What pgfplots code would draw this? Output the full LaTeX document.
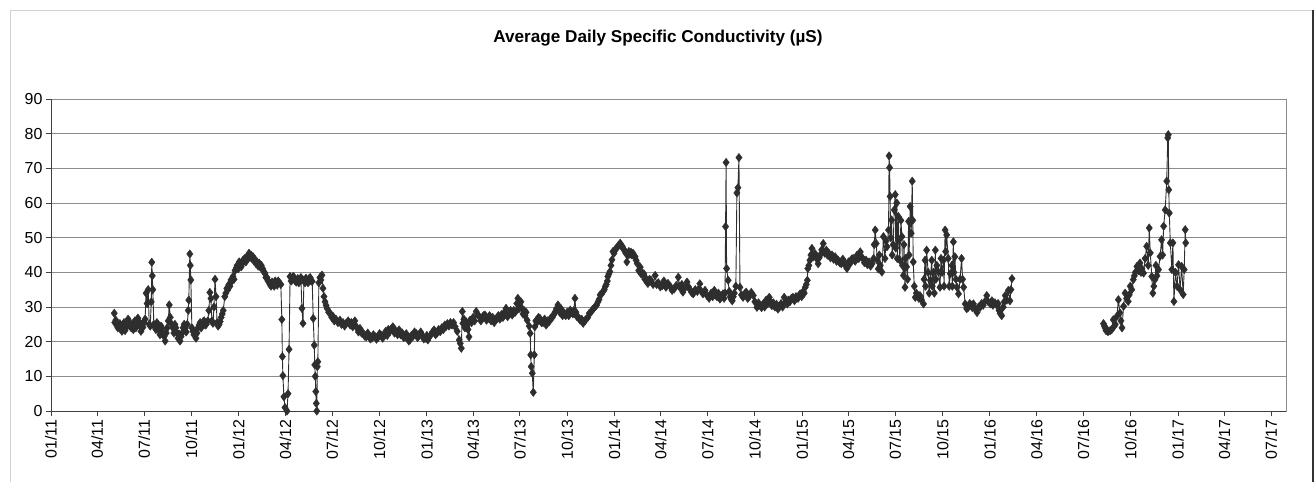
\documentclass[border=0pt]{standalone}
\usepackage{pgfplots}
\pgfplotsset{compat=1.18}
\usepackage{fontspec}
\setmainfont{Liberation Sans}
\definecolor{dat}{HTML}{2E2E2E}
\definecolor{gridc}{HTML}{8C8C8C}
\definecolor{axc}{HTML}{404040}
\begin{document}
\begin{tikzpicture}
\useasboundingbox (0bp,0bp) rectangle (1316bp,-482bp);
\draw[color=black!18, line width=1bp] (10bp,-482bp) -- (10bp,-10bp) -- (1313bp,-10bp);
\draw[color=black!80, line width=1.5bp] (1313bp,-10bp) -- (1313bp,-482bp);
\node[font=\bfseries\fontsize{17.2}{20}\selectfont] at (658bp,-38bp) {Average Daily Specific Conductivity (µS)};
\begin{axis}[
  at={(51bp,-411bp)}, anchor=south west,
  scale only axis, width=1235bp, height=312bp,
  xmin=0, xmax=2402, ymin=0, ymax=90,
  ytick={0,10,...,90},
  xtick={0,90,181,273,365,456,547,639,731,821,912,1004,1096,1186,1277,1369,1461,1551,1642,1734,1826,1917,2008,2100,2192,2282,2373},
  xticklabels={01/11,04/11,07/11,10/11,01/12,04/12,07/12,10/12,01/13,04/13,07/13,10/13,01/14,04/14,07/14,10/14,01/15,04/15,07/15,10/15,01/16,04/16,07/16,10/16,01/17,04/17,07/17},
  ymajorgrids,
  major grid style={gridc, line width=0.9bp},
  axis line style={gridc, line width=0.9bp},
  tick align=outside, major tick length=5bp,
  tick style={axc, line width=0.9bp},
  xtick pos=left, ytick pos=left,
  ticklabel style={font=\fontsize{16}{19}\selectfont},
  xticklabel style={rotate=90, anchor=east},
  /pgf/number format/assume math mode=true,
  clip=false,
]
\addplot[color=dat, line width=0.9bp, mark=diamond*, mark size=4.2bp, mark options={solid, fill=dat, draw=dat, line width=0.4bp}] coordinates {
(123,28.2)(124,25.5)(126,26.2)(128,25)(130,24)(132,24.3)(134,25.2)(136,23.8)(138,23)(140,24.5)(142,25.5)(144,23.2)(146,24)(148,24.8)(150,26.5)(152,25.6)(154,24.6)(156,24)(158,25)(160,23.5)(162,25)(163,26)(165,24)(167,24.5)(169,26.8)(171,25.8)(173,24.5)(175,23)(177,25)(179,24.2)(181,25.5)(183,26.5)(185,34)(187,31)(189,35)(191,25)(193,24.5)(195,31.5)(196,42.9)(197,39)(198,35)(200,25)(202,24.2)(204,23.5)(206,25.5)(208,24.5)(210,23.2)(212,22)(214,24.5)(216,23.8)(218,22.5)(220,21.5)(222,20.2)(224,22.5)(226,24)(228,26)(230,30.6)(232,27)(235,25)(237,24)(239,22.5)(241,25)(243,24)(245,22.5)(247,21)(249,22.2)(251,20.2)(253,21.5)(255,22.5)(257,24)(259,25)(261,23.8)(263,22.8)(265,25)(267,29)(268,32)(270,45.3)(271,42)(272,37.8)(274,24)(276,23)(278,22)(280,22.8)(282,21)(284,22.5)(286,24)(288,24.8)(290,25.5)(292,24)(294,24.5)(296,25.8)(298,26)(300,24.8)(302,25)(305,26)(307,29)(309,34.2)(311,32.5)(313,26)(315,25.3)(317,30)(319,38)(321,33)(323,25.5)(325,24.5)(327,25)(329,25.8)(331,27)(333,28)(335,29)(338,33)(340,34)(342,35.4)(344,35)(346,36.5)(348,36)(350,37.8)(352,37.5)(354,38.8)(356,38)(358,40.5)(360,41.2)(362,42)(364,41)(366,43)(368,42.5)(370,41.6)(372,42.5)(374,43.6)(377,44)(379,43)(381,44.5)(383,44)(385,45.5)(387,44.3)(389,45)(391,44)(393,44.5)(395,43.2)(397,43.6)(399,42.5)(401,43)(403,41.8)(405,42.6)(407,41.5)(409,42)(412,41)(414,40.2)(416,39.7)(418,38.5)(420,38.5)(422,37.5)(424,37.3)(426,36.5)(428,36)(430,37.2)(432,36.8)(434,36)(436,37.5)(438,36.8)(440,36.3)(442,37.5)(444,37)(447,36.5)(449,26.4)(450,15.7)(451,10.2)(453,4.1)(455,1)(459,0)(461,5)(463,17.8)(465,38.8)(467,37.5)(469,37.8)(471,38.8)(473,38.5)(475,37.5)(477,37.2)(480,38.2)(482,37)(484,37.5)(486,38.5)(488,29.6)(490,25.3)(492,37.8)(494,37)(496,38.3)(498,37.5)(500,37)(502,38.2)(504,38.5)(506,37.5)(508,37.4)(510,26.7)(512,19)(513,13.3)(514,10)(515,5.6)(516,2.2)(517,0)(518,12.8)(519,14.2)(521,37)(523,38.5)(525,37.8)(527,39.2)(529,35.4)(531,33)(533,31.5)(535,30.5)(537,29.6)(540,28.5)(543,28.2)(546,27)(549,27.2)(551,26)(554,26.5)(558,25.5)(562,26.2)(565,25)(568,25.5)(571,24.5)(574,25.3)(578,26)(582,24.8)(584,25.5)(587,24.3)(591,26)(593,24.5)(595,24)(598,22.8)(601,23.8)(604,22.5)(607,22.5)(610,21.6)(613,21.4)(616,22.5)(619,21.8)(621,20.8)(624,21)(627,22)(630,21.5)(633,20.7)(636,21.2)(639,22.3)(642,21.9)(645,21)(648,22)(651,23)(654,21.8)(656,23.5)(659,22.9)(662,23.8)(665,24.3)(668,22.5)(671,23)(674,22)(677,23.4)(680,22)(683,22.5)(686,21.2)(689,21.4)(691,22.3)(694,21)(696,20.2)(698,20.5)(701,21.8)(704,21.5)(707,22.8)(710,22.4)(713,21.2)(716,21.8)(719,22.8)(722,21.9)(725,20.8)(728,21)(731,21.8)(733,20.5)(736,21.5)(739,22)(742,22.8)(745,23.4)(748,22)(751,22.5)(754,23.5)(757,22.9)(760,24)(763,23.5)(766,24.8)(768,24.3)(771,25.2)(774,24.5)(777,25.5)(780,24.8)(783,25.5)(786,24.3)(790,23)(794,20.5)(796,19.5)(798,18.1)(800,28.7)(801,25.3)(803,26.5)(805,24)(807,25.8)(809,25)(811,23.5)(813,21.4)(815,26.2)(818,25.5)(821,27)(824,26)(827,28.7)(830,27.8)(833,27.2)(836,26)(838,26.5)(841,27.5)(844,27.7)(847,26.2)(850,26.7)(853,27.5)(856,26)(859,27)(862,25.5)(865,26.5)(868,26.7)(870,27.5)(873,26.5)(876,27.8)(879,27)(882,28.5)(885,29.6)(888,27.2)(891,28)(894,29)(897,27.7)(900,29)(903,28.5)(906,31)(908,32.5)(910,29.5)(912,30.5)(914,31.5)(916,29.5)(918,28)(920,29)(922,27.5)(924,28.5)(926,26.2)(930,24.5)(932,22.4)(933,16.2)(934,12.8)(936,10.9)(938,5.4)(940,16.2)(941,24.3)(943,26)(945,25.5)(948,27)(951,26.7)(954,25.5)(957,25.5)(960,26.5)(963,24.8)(966,26)(969,25.8)(972,26.8)(975,27)(978,27.8)(980,28.5)(983,29.5)(986,30.6)(989,28.5)(992,29.5)(995,27.5)(998,28.2)(1001,27.5)(1004,28.5)(1007,27.5)(1010,29.1)(1013,28.5)(1015,28)(1017,29)(1019,32.5)(1021,28.5)(1023,27.2)(1026,27)(1029,26.2)(1032,26.5)(1035,25.3)(1038,26)(1041,26.5)(1044,27)(1047,28.2)(1050,28.5)(1052,29)(1055,29.5)(1058,30.1)(1061,30.5)(1064,31.5)(1066,32.2)(1068,33.5)(1071,33.8)(1074,34.5)(1076,35)(1078,35.9)(1080,36.5)(1082,37.5)(1083,38.8)(1085,39.5)(1087,40.2)(1089,42)(1091,43.6)(1093,46)(1095,45.5)(1097,46.5)(1099,46.8)(1101,47.2)(1104,47.8)(1107,48.4)(1109,47.8)(1111,47.5)(1113,46.8)(1115,46.4)(1118,45.5)(1120,43)(1122,45)(1124,46)(1126,45.2)(1128,45.8)(1130,45)(1132,45.5)(1134,44.8)(1136,44.5)(1138,43.5)(1140,42.6)(1143,40.5)(1146,41.5)(1148,39.5)(1150,39.7)(1153,39.6)(1155,38)(1157,38.3)(1159,37.2)(1161,36.8)(1164,38)(1167,37.7)(1171,36.5)(1175,39.1)(1178,36.5)(1181,37)(1185,35.8)(1189,36.2)(1192,37.5)(1196,35.7)(1200,36.8)(1204,36)(1208,34.8)(1212,35.2)(1216,36.2)(1220,38.6)(1222,36)(1224,35.5)(1227,36.5)(1229,34.3)(1233,35.5)(1237,37.2)(1240,35.8)(1243,35)(1246,34.2)(1249,33.8)(1253,35)(1257,34.5)(1260,35.2)(1262,36.7)(1265,34.5)(1268,33.8)(1272,34.8)(1276,33.3)(1280,32.5)(1284,34)(1287,33)(1290,34.8)(1292,33.5)(1295,33)(1298,34)(1301,32.3)(1304,33)(1307,33.8)(1309,32.5)(1311,34)(1312,53.2)(1313,71.7)(1314,41.1)(1317,37.7)(1319,34.5)(1321,33)(1323,32.2)(1325,31.8)(1327,33)(1329,34)(1332,36)(1334,62.9)(1336,64.4)(1338,73.1)(1340,35.7)(1343,33.5)(1346,32.8)(1349,33.8)(1352,34.3)(1355,32.5)(1358,33)(1362,34.2)(1366,33.3)(1369,31.5)(1373,29.9)(1376,31.2)(1379,30.5)(1382,29.8)(1385,30.9)(1388,30)(1391,32)(1394,31)(1397,32.8)(1400,31.5)(1402,30.4)(1405,31.2)(1408,30)(1411,30.8)(1414,29.4)(1417,30.2)(1420,31)(1423,30)(1426,32.8)(1429,31.5)(1432,30.9)(1434,32)(1437,31.5)(1440,32.5)(1443,32.8)(1446,31.8)(1449,33)(1453,32.5)(1457,33.8)(1460,33)(1463,34.5)(1465,34)(1467,35.7)(1469,36.5)(1471,37.7)(1472,41.1)(1474,42)(1476,43.5)(1478,45)(1480,46.9)(1483,44.5)(1486,45.4)(1489,44)(1492,42.5)(1494,44.2)(1496,45)(1499,46.5)(1502,48.3)(1505,45.5)(1508,46.4)(1510,45)(1513,45.5)(1516,44.2)(1519,45)(1522,43.8)(1525,44.5)(1528,43.2)(1531,43.5)(1534,42.8)(1537,42.5)(1540,43.8)(1543,43)(1545,42)(1548,41.1)(1551,43)(1554,42.5)(1557,43.8)(1560,44)(1564,43.2)(1568,45)(1571,44)(1574,45.9)(1576,44.5)(1579,44)(1582,42.8)(1585,43.5)(1588,42.2)(1591,43)(1594,41.8)(1597,42.5)(1600,44)(1601,48)(1603,52.2)(1605,48.3)(1607,43.5)(1609,41)(1611,45)(1613,42)(1616,40.1)(1619,50.3)(1622,44)(1624,49)(1626,47.4)(1629,52.2)(1630,73.6)(1631,70.2)(1632,61.9)(1633,50)(1635,55.1)(1636,45)(1638,48)(1640,58)(1642,62.4)(1643,47)(1645,60)(1646,44)(1648,56.1)(1649,49.3)(1651,43.5)(1653,55)(1655,50.3)(1656,42)(1658,39.1)(1659,48)(1661,35.7)(1662,44)(1664,41.6)(1666,38)(1668,54.7)(1669,45)(1671,59)(1673,51.3)(1675,66.3)(1676,55)(1677,43)(1679,36)(1681,32.8)(1683,34)(1685,33.5)(1688,32.5)(1690,33.3)(1693,32)(1697,30.9)(1698,38)(1700,43.5)(1701,36)(1703,46.4)(1706,40)(1708,34)(1710,37.7)(1713,43.5)(1714,36)(1716,40)(1718,34)(1720,46.4)(1721,38)(1723,42)(1726,40.1)(1729,35.7)(1731,44)(1733,40)(1736,43.5)(1737,36)(1739,52.2)(1740,46)(1742,50.8)(1745,44)(1747,36)(1749,39.6)(1752,42)(1753,36)(1755,48.8)(1756,40)(1758,44.5)(1760,38)(1762,35.7)(1765,33.8)(1768,38)(1771,44)(1773,38)(1775,35.7)(1778,30.9)(1781,29.5)(1784,29.9)(1787,31)(1790,30.5)(1792,29.8)(1794,30.9)(1797,29.5)(1801,28.4)(1804,30)(1807,29.9)(1810,31)(1813,30.5)(1816,31.5)(1820,33.3)(1823,31.5)(1827,30.9)(1830,31.8)(1832,30.5)(1836,31.2)(1840,30.4)(1842,31)(1844,29)(1846,28.2)(1849,27.5)(1852,30)(1854,31.5)(1856,33.3)(1859,32)(1862,34.8)(1865,31.8)(1867,35)(1869,38.2)
};
\addplot[color=dat, line width=0.9bp, mark=diamond*, mark size=4.2bp, mark options={solid, fill=dat, draw=dat, line width=0.4bp}] coordinates {
(2047,25.2)(2049,24.5)(2050,24)(2052,23.2)(2053,23.5)(2055,23)(2057,23)(2060,23.2)(2063,23.5)(2066,26.3)(2068,24.5)(2070,25)(2073,27.3)(2076,32.1)(2079,28.3)(2081,26)(2083,24)(2086,30.2)(2089,34)(2092,32.5)(2095,31.6)(2097,33.5)(2099,36)(2102,35)(2105,37.9)(2107,39)(2109,40)(2112,41.7)(2115,40.5)(2118,42.7)(2120,40)(2122,41)(2125,39.8)(2128,44)(2131,47.5)(2134,42)(2136,52.8)(2138,45.6)(2141,38.8)(2143,34)(2145,36)(2147,37.9)(2149,42)(2151,39)(2154,40.8)(2157,44.6)(2160,49.4)(2162,45)(2164,53.3)(2167,58)(2170,66.3)(2172,78.8)(2173,79.7)(2174,63.8)(2175,57.1)(2177,48.5)(2180,40.8)(2182,48.5)(2184,31.6)(2187,40)(2190,36)(2193,42.2)(2196,35)(2199,41.7)(2202,33.6)(2204,40.8)(2206,52.3)(2207,48.5)
};
\draw[axc, line width=1bp] (rel axis cs:0,1) -- (rel axis cs:0,0) -- (rel axis cs:1,0);
\end{axis}
\end{tikzpicture}
\end{document}
